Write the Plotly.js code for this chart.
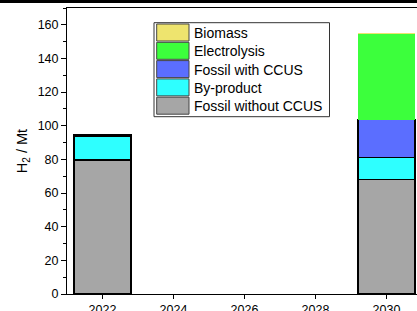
<!DOCTYPE html>
<html><head><meta charset="utf-8">
<script src="https://cdn.plot.ly/plotly-3.0.1.min.js"></script>
<style>html,body{margin:0;padding:0;overflow:hidden;background:#fff;width:417px;height:311px}
#topbar{position:absolute;left:0;top:0;width:417px;height:3px;background:#000;z-index:5}
#plot{position:absolute;left:0;top:0}</style>
</head><body>
<div id="topbar"></div>
<div id="plot"></div>
<script>
const years = [2022, 2030];
const fossilWithout = [79.6, 68.0];
const byProduct = [13.9, 13.2];
const fossilCCUS = [1.0, 22.4];
const electrolysis = [0.1, 50.9];
const biomass = [0.0, 0.6];
const seriesNames = ['Fossil without CCUS', 'By-product', 'Fossil with CCUS', 'Electrolysis', 'Biomass'];
const seriesColors = ['#A6A6A6', '#2EFFFF', '#5B6EFF', '#3CFF3C', '#EEE46E'];
const yTicks = [0, 20, 40, 60, 80, 100, 120, 140, 160];
const xTicks = [2022, 2024, 2026, 2028, 2030];

const vals = [fossilWithout, byProduct, fossilCCUS, electrolysis, biomass];
const lineW = [1.3, 1.3, 1.3, 0, 0];
const traces = vals.map((v, i) => ({
  type: 'bar', x: years, y: v, name: seriesNames[i], width: 1.6, showlegend: false,
  marker: {color: seriesColors[i], line: {color: '#000', width: lineW[i]}}
}));

// plot-area geometry (pixels)
const L = 67, T = 8, W = 355, H = 286;
const px = x => (x - L) / W;
const py = y => (T + H - y) / H;

// hand-built legend (reversed order: Biomass on top)
const shapes = [];
const annotations = [];
shapes.push({type: 'rect', xref: 'paper', yref: 'paper', x0: px(154), x1: px(329.5), y0: py(22.7), y1: py(116.7),
  fillcolor: '#fff', line: {color: '#333', width: 1}});
const order = [4, 3, 2, 1, 0];
order.forEach((k, i) => {
  const top = 24 + 18.3 * i;
  shapes.push({type: 'rect', xref: 'paper', yref: 'paper', x0: px(156.7), x1: px(189), y0: py(top + 17), y1: py(top),
    fillcolor: seriesColors[k], line: {color: '#444', width: 1}});
  annotations.push({xref: 'paper', yref: 'paper', x: px(191.5), y: py(top + 9), xanchor: 'left', yanchor: 'middle',
    text: seriesNames[k], showarrow: false, font: {size: 14, color: '#000'}});
});

const layout = {
  width: 425, height: 340,
  margin: {l: L, r: 425 - L - W, t: T, b: 340 - T - H},
  barmode: 'stack',
  paper_bgcolor: '#fff', plot_bgcolor: '#fff',
  font: {family: 'Liberation Sans, Arial, sans-serif', size: 12, color: '#000'},
  showlegend: false,
  shapes: shapes, annotations: annotations,
  xaxis: {range: [2021, 2031], tickvals: xTicks, ticktext: xTicks.map(String),
    ticks: 'outside', ticklen: 4, tickwidth: 1, tickcolor: '#000',
    showline: true, linecolor: '#000', linewidth: 1, mirror: true,
    showgrid: false, zeroline: false, tickfont: {size: 12.5}},
  yaxis: {range: [0, 170], tickvals: yTicks, ticks: 'outside', ticklen: 5, tickwidth: 1, tickcolor: '#000',
    minor: {dtick: 10, tick0: 0, ticks: 'outside', ticklen: 3, tickcolor: '#000', showgrid: false},
    showline: true, linecolor: '#000', linewidth: 1, mirror: true,
    showgrid: false, zeroline: false, tickfont: {size: 12.5},
    title: {text: 'H<sub>2</sub> / Mt', font: {size: 14.5}, standoff: 6}}
};
Plotly.newPlot('plot', traces, layout, {displayModeBar: false, staticPlot: true});
</script></body></html>
